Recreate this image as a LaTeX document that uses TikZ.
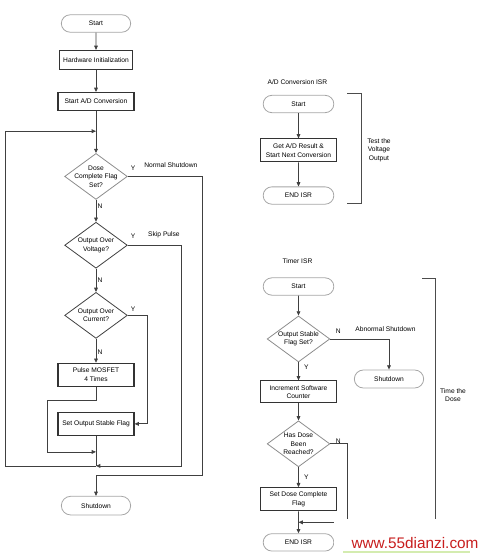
\documentclass[tikz,border=0pt]{standalone}
\usepackage{fontspec}
\setmainfont{Liberation Sans}
\usetikzlibrary{
  arrows.meta,
  calc,
  positioning,
  shapes.geometric,
  shapes.misc,
}
\newcommand{\chartfont}{\fontsize{5}{6.4}\selectfont}
\tikzset{
  >={Triangle[length=3.2pt,width=2.8pt]},
  line/.style={draw=black!75, line width=0.6pt},
  term/.style={rounded rectangle, draw=black!35, line width=0.6pt,
    minimum width=54pt, minimum height=13pt, inner sep=1pt, font=\chartfont},
  proc/.style={rectangle, draw=black!80, line width=0.8pt, align=center,
    minimum width=57pt, minimum height=17.25pt, inner sep=1pt, font=\chartfont},
  decision/.style={diamond, draw=black!45, line width=0.6pt,
    minimum width=47pt, minimum height=34.5pt, inner sep=0pt},
  dtext/.style={align=center, font=\chartfont, inner sep=0pt},
  lbl/.style={font=\chartfont, inner sep=1pt},
}
\begin{document}
\begin{tikzpicture}[x=0.75pt, y=-0.75pt]
  \useasboundingbox (0,0) rectangle (485,556);

  % main loop
  \node [term] (start) at (96,23.5) {Start};
  \node [proc, below=13pt of start, minimum width=55pt, minimum height=14.25pt] (hwinit) {Hardware Initialization};
  \node [proc, below=16.5pt of hwinit, minimum height=13.5pt] (adconv) {Start A/D Conversion};
  \node [decision, below=31.5pt of adconv, label={[dtext]center:Dose\\Complete Flag\\Set?}] (dosechk) {};
  \node [decision, draw=black!75, below=16.5pt of dosechk, label={[dtext]center:Output Over\\Voltage?}] (ovchk) {};
  \node [decision, draw=black!75, below=17.5pt of ovchk, label={[dtext]center:Output Over\\Current?}] (occhk) {};
  \node [proc, below=18pt of occhk] (pulse) {Pulse MOSFET\\4 Times};
  \node [proc, below=18.75pt of pulse] (setflag) {Set Output Stable Flag};
  \node [term, below=45pt of setflag, minimum height=14pt] (shutdown) {Shutdown};

  \coordinate (loopin) at ($(adconv.south)!0.48!(dosechk.north)$);
  \coordinate (pjoin) at ($(setflag.south)+(0,16)$);
  \coordinate (ljoin) at ($(setflag.south)+(0,30)$);
  \coordinate (sjoin) at ($(shutdown.north)+(0,-21)$);

  \draw [line, ->] (start) -- (hwinit);
  \draw [line, ->] (hwinit) -- (adconv);
  \draw [line, ->] (adconv) -- (dosechk);
  \draw [line, ->] (dosechk) -- node [lbl, right, pos=0.3] {N} (ovchk);
  \draw [line, ->] (ovchk) -- node [lbl, right, pos=0.5] {N} (occhk);
  \draw [line, ->] (occhk) -- node [lbl, right, pos=0.55] {N} (pulse);

  \draw [line, ->] (dosechk.east) node [lbl, above right, xshift=1pt, yshift=3.5pt] {Y}
    -| node [lbl, above=5.5pt, pos=0.29] {Normal Shutdown} ($(sjoin)+(106,0)$) -- (sjoin) -- (shutdown.north);
  \draw [line, ->] (ovchk.east) node [lbl, above right, xshift=1pt, yshift=3.5pt] {Y}
    -| node [lbl, above=4pt, pos=0.34] {Skip Pulse} ($(ljoin)+(85,0)$) -- (ljoin);
  \draw [line, ->] (occhk.east) node [lbl, above right, xshift=1pt, yshift=1.5pt] {Y}
    -- ++(20,0) |- (setflag.east);
  \draw [line, ->] (pulse.south) -- ++(0,14) -| ($(pjoin)+(-49,0)$) -- (pjoin);
  \draw [line] (setflag.south) -- (ljoin);
  \draw [line, ->] (ljoin) -- ($(ljoin)+(-91,0)$) |- (loopin);

  % A/D conversion ISR
  \node [lbl, anchor=west] (adtitle) at (266,82) {A/D Conversion ISR};
  \node [term, minimum width=55pt] (adstart) at (298.5,104) {Start};
  \node [proc, below=19pt of adstart] (adget) {Get A/D Result \&\\Start Next Conversion};
  \node [term, minimum width=55pt, below=18pt of adget] (adend) {END ISR};
  \draw [line, ->] (adstart) -- (adget);
  \draw [line, ->] (adget) -- (adend);
  \draw [line, draw=black!70] (347,93) -- (361,93) -- (361,203) -- (347,203);
  \node [lbl, align=center] (adnote) at (379,150) {Test the\\Voltage\\Output};

  % timer ISR
  \node [lbl, anchor=west] (tmtitle) at (281,261) {Timer ISR};
  \node [term, minimum width=55pt] (tmstart) at (298.5,286.5) {Start};
  \node [decision, below=15pt of tmstart, label={[dtext]center:Output Stable\\Flag Set?}] (stablechk) {};
  \node [proc, below=13.5pt of stablechk, minimum height=16.5pt] (incr) {Increment Software\\Counter};
  \node [decision, below=12.75pt of incr, label={[dtext]center:Has Dose\\Been\\Reached?}] (reachchk) {};
  \node [proc, below=15pt of reachchk] (setdose) {Set Dose Complete\\Flag};
  \node [term, minimum width=55pt, below=16.5pt of setdose] (tmend) {END ISR};
  \node [term, minimum height=13.5pt] (tmshut) at (389,379) {Shutdown};

  \coordinate (tjoin) at ($(setdose.south)+(0,11)$);

  \draw [line, ->] (tmstart) -- (stablechk);
  \draw [line, ->] (stablechk) -- node [lbl, right, pos=0.25, xshift=3pt] {Y} (incr);
  \draw [line, ->] (stablechk.east) node [lbl, above right, xshift=3pt, yshift=3pt] {N}
    -| node [lbl, above=4pt, pos=0.47] {Abnormal Shutdown} (tmshut.north);
  \draw [line, ->] (incr) -- (reachchk);
  \draw [line, ->] (reachchk) -- node [lbl, right, pos=0.5, xshift=3pt] {Y} (setdose);
  \draw [line, ->] (reachchk.east) node [lbl, above right, xshift=3pt, yshift=-1pt] {N}
    -| ($(tjoin)+(48.5,0)$) -- (tjoin);
  \draw [line, ->] (setdose) -- (tmend);
  \draw [line, draw=black!70] (422,278) -- (435,278) -- (435,540) -- (422,540);
  \node [lbl, align=center] (tmnote) at (453,395) {Time the\\Dose};

  % watermark
  \fill [white] (334,519) rectangle (485,556);
  \draw [draw={rgb,255:red,212;green,236;blue,176}, line width=2.2pt] (343,552) -- (470,552);
  \node [font=\fontsize{11.5}{12}\selectfont, text={rgb,255:red,200;green,30;blue,30}, inner sep=0pt] (wmark) at (415,543) {www.55dianzi.com};
\end{tikzpicture}
\end{document}
